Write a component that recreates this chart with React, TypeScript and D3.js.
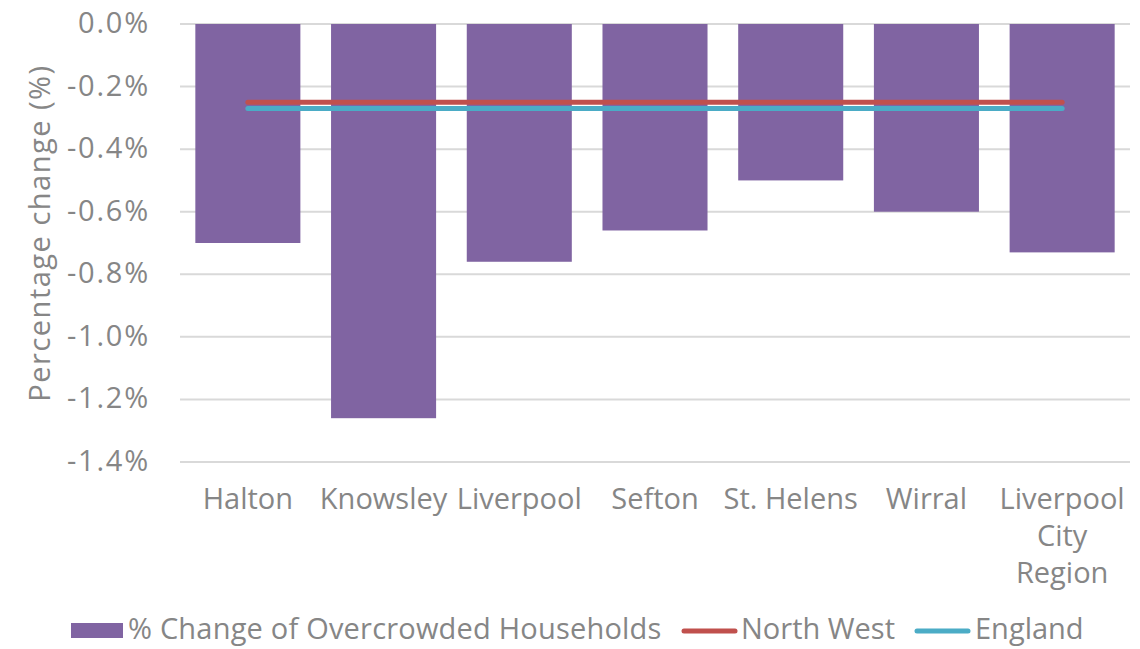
import * as d3 from "d3";

const categories = ["Halton", "Knowsley", "Liverpool", "Sefton", "St. Helens", "Wirral", "Liverpool City Region"];
const categoryLines = [["Halton"], ["Knowsley"], ["Liverpool"], ["Sefton"], ["St. Helens"], ["Wirral"], ["Liverpool", "City", "Region"]];
const overcrowdedChange = [-0.7, -1.26, -0.76, -0.66, -0.5, -0.6, -0.73];
const northWest = [-0.25, -0.25, -0.25, -0.25, -0.25, -0.25, -0.25];
const england = [-0.27, -0.27, -0.27, -0.27, -0.27, -0.27, -0.27];
const yTicks = [0, -0.2, -0.4, -0.6, -0.8, -1.0, -1.2, -1.4];

const FONT = "'Open Sans', Lato, sans-serif";
const GREY = "#868686";

export default function App() {
  const width = 1140;
  const height = 649;
  const left = 180;
  const right = 1130;
  const top = 24;
  const bottom = 462;

  const x = d3.scaleBand<string>().domain(categories).range([left, right]).paddingInner(0.226).paddingOuter(0.113);
  const y = d3.scaleLinear().domain([0, -1.4]).range([top, bottom]);
  const cx = (c: string) => (x(c) ?? 0) + x.bandwidth() / 2;

  const line = d3
    .line<number>()
    .x((_, i) => cx(categories[i]))
    .y((d) => y(d));

  return (
    <svg
      width={width}
      height={height}
      viewBox={`0 0 ${width} ${height}`}
      style={{ position: "absolute", left: 0, top: 0, background: "#fff" }}
      fontFamily={FONT}
    >
      {yTicks.map((t) => (
        <g key={t}>
          <line x1={left} x2={right} y1={y(t)} y2={y(t)} stroke="#d9d9d9" strokeWidth={2} />
          <text x={150} y={y(t) + 9} textAnchor="end" fill={GREY} fontSize={29} letterSpacing={1.8}>
            {d3.format(".1%")(t / 100).replace("−", "-")}
          </text>
        </g>
      ))}
      {categories.map((c, i) => (
        <rect
          key={c}
          x={x(c)}
          width={x.bandwidth()}
          y={y(0)}
          height={y(overcrowdedChange[i]) - y(0)}
          fill="#8064a2"
        />
      ))}
      <path d={line(northWest) ?? ""} fill="none" stroke="#c0504d" strokeWidth={5} strokeLinecap="round" />
      <path d={line(england) ?? ""} fill="none" stroke="#4bacc6" strokeWidth={5} strokeLinecap="round" />
      {categories.map((c, i) => (
        <text key={c} x={cx(c)} y={509} textAnchor="middle" fill={GREY} fontSize={29}>
          {categoryLines[i].map((l, j) => (
            <tspan key={j} x={cx(c)} dy={j === 0 ? 0 : 37}>
              {l}
            </tspan>
          ))}
        </text>
      ))}
      <text
        transform={`translate(40, 233) rotate(-90)`}
        textAnchor="middle"
        dy="0.35em"
        fill={GREY}
        fontSize={29}
        letterSpacing={1.5}
      >
        Percentage change (%)
      </text>
      <g fontSize={29} fill={GREY}>
        <rect x={71} y={623} width={52} height={15} fill="#8064a2" />
        <text x={128} y={639} letterSpacing={0.2}>% Change of Overcrowded Households</text>
        <line x1={684} x2={735} y1={631} y2={631} stroke="#c0504d" strokeWidth={5} strokeLinecap="round" />
        <text x={741} y={639}>North West</text>
        <line x1={917} x2={968} y1={631} y2={631} stroke="#4bacc6" strokeWidth={5} strokeLinecap="round" />
        <text x={975} y={639}>England</text>
      </g>
    </svg>
  );
}
